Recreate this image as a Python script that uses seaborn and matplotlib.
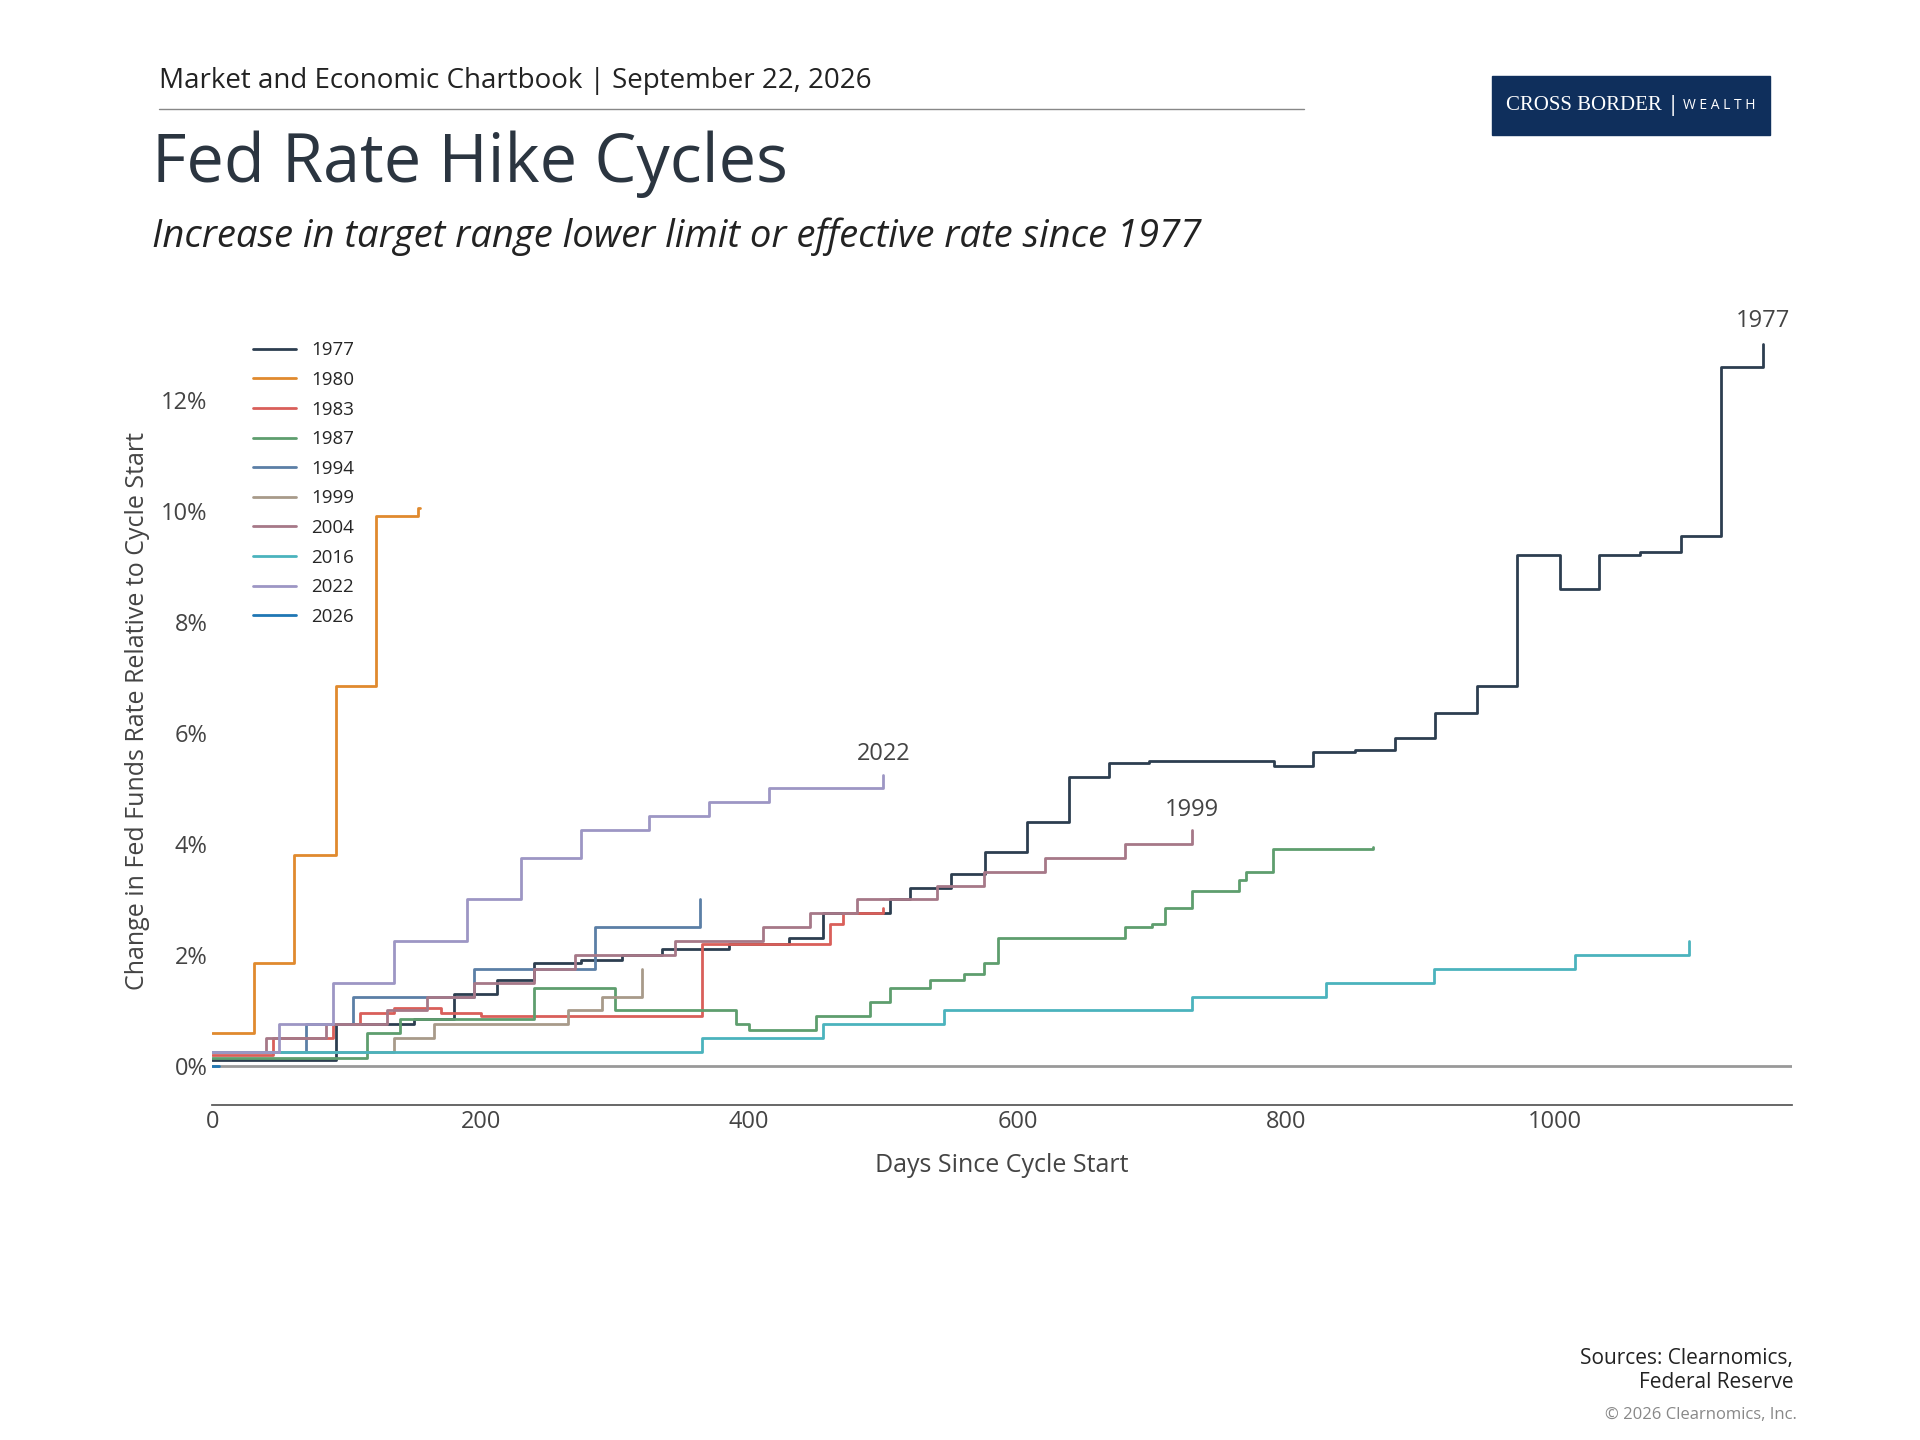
import matplotlib
matplotlib.use("Agg")
import matplotlib.pyplot as plt
import seaborn as sns
import pandas as pd

W, H = 1546, 1160
cycles = {
 "1977": ([0,92,150,180,212,240,275,305,335,385,430,455,505,520,550,576,607,638,668,698,760,791,820,851,881,911,942,972,1004,1033,1064,1094,1124,1155],
          [0.1,0.75,0.85,1.3,1.55,1.85,1.9,2.0,2.1,2.2,2.3,2.75,3.0,3.2,3.45,3.85,4.4,5.2,5.45,5.5,5.5,5.4,5.65,5.7,5.9,6.35,6.85,9.2,8.6,9.2,9.25,9.55,12.6,13.0]),
 "1980": ([0,31,61,92,122,153,155],[0.6,1.85,3.8,6.85,9.9,10.05,10.05]),
 "1983": ([0,45,90,110,135,170,200,365,460,470,500],[0.2,0.5,0.75,0.95,1.05,0.95,0.9,2.2,2.55,2.75,2.85]),
 "1987": ([0,115,140,240,300,390,400,450,490,505,535,560,575,585,680,700,710,730,765,770,790,865],
          [0.15,0.6,0.85,1.4,1.0,0.75,0.65,0.9,1.15,1.4,1.55,1.65,1.85,2.3,2.5,2.55,2.85,3.15,3.35,3.5,3.9,3.95]),
 "1994": ([0,70,105,195,285,363,363],[0.25,0.75,1.25,1.75,2.5,2.5,3.0]),
 "1999": ([0,135,165,265,290,320,320],[0.25,0.5,0.75,1.0,1.25,1.25,1.75]),
 "2004": ([0,40,85,130,160,195,240,270,345,410,445,480,540,575,620,680,730,730],
          [0.25,0.5,0.75,1.0,1.25,1.5,1.75,2.0,2.25,2.5,2.75,3.0,3.25,3.5,3.75,4.0,4.0,4.25]),
 "2016": ([0,365,455,545,730,830,910,1015,1100,1100],[0.25,0.5,0.75,1.0,1.25,1.5,1.75,2.0,2.0,2.25]),
 "2022": ([0,50,90,135,190,230,275,325,370,415,500,500],[0.25,0.75,1.5,2.25,3.0,3.75,4.25,4.5,4.75,5.0,5.0,5.25]),
 "2026": ([0,5],[0.0,0.0]),
}
colors = {"1977":"#2d3e50","1980":"#e08a2e","1983":"#d95f5a","1987":"#5e9e6e","1994":"#5b7fa6",
          "1999":"#a89a8a","2004":"#a67888","2016":"#4bb3bd","2022":"#9d96c4","2026":"#1f77b4"}

rows = []
for k,(d,v) in cycles.items():
    for a,b in zip(d,v): rows.append((k,a,b))
df = pd.DataFrame(rows, columns=["cycle","day","value"])

sns.set_theme(style="white")
plt.rcParams['font.family'] = ['Open Sans','DejaVu Sans']
fig = plt.figure(figsize=(19.2,14.4), dpi=100)
ax = fig.add_axes([171/W, 1-890/H, (1443-171)/W, (890-255)/H])
sns.lineplot(data=df, x="day", y="value", hue="cycle", palette=colors, drawstyle="steps-post",
             linewidth=2, ax=ax, sort=False, estimator=None)
ax.axhline(0, color="#999999", lw=2, zorder=0)
ax.set_xlim(0,1177); ax.set_ylim(-0.7,13.5)
ax.set_yticks([0,2,4,6,8,10,12]); ax.set_yticklabels([f"{t}%" for t in [0,2,4,6,8,10,12]])
ax.set_xticks([0,200,400,600,800,1000])
ax.tick_params(labelsize=17, colors="#444444", length=0)
for s in ["top","right","left"]: ax.spines[s].set_visible(False)
ax.spines["bottom"].set_color("#555555")
ax.set_xlabel("Days Since Cycle Start", fontsize=18, color="#444444", labelpad=14)
ax.set_ylabel("Change in Fed Funds Rate Relative to Cycle Start", fontsize=18, color="#444444", labelpad=8)
leg = ax.legend(loc="upper left", bbox_to_anchor=(0.015,0.99), frameon=False, fontsize=13.5,
                handlelength=2.3, labelspacing=0.62)
for l in leg.get_lines(): l.set_linewidth(2)
for t,x,y in [("1977",1155,13.2),("2022",500,5.4),("1999",730,4.4)]:
    ax.text(x,y,t,ha="center",va="bottom",fontsize=17,color="#444444")

fig.text(128/W,1-65/H,"Market and Economic Chartbook | September 22, 2026",fontsize=20,va="center",color="#222222")
fig.add_artist(plt.Line2D([128/W,1050/W],[1-88/H,1-88/H],color="#888888",lw=1))
fig.text(122/W,1-132/H,"Fed Rate Hike Cycles",fontsize=48,va="center",color="#2b3540")
fig.text(122/W,1-191/H,"Increase in target range lower limit or effective rate since 1977",fontsize=27.5,
         style="italic",va="center",color="#222222")
fig.patches.append(plt.Rectangle((1201/W,1-109/H),224/W,48/H,transform=fig.transFigure,color="#0f2f5c"))
fig.text(1275/W,1-85/H,"CROSS BORDER",fontsize=15,color="white",va="center",ha="center",family="Liberation Serif")
fig.text(1347/W,1-85/H,"|",fontsize=16,color="white",va="center",ha="center")
fig.text(1384/W,1-85/H,"W E A L T H",fontsize=10,color="white",va="center",ha="center")
fig.text(1444/W,1-1104/H,"Sources: Clearnomics,\nFederal Reserve",fontsize=15,ha="right",va="center",
         color="#222222",multialignment="right")
fig.text(1447/W,1-1140/H,"© 2026 Clearnomics, Inc.",fontsize=12,ha="right",va="center",color="#888888")
fig.savefig("out.png", dpi=100)
